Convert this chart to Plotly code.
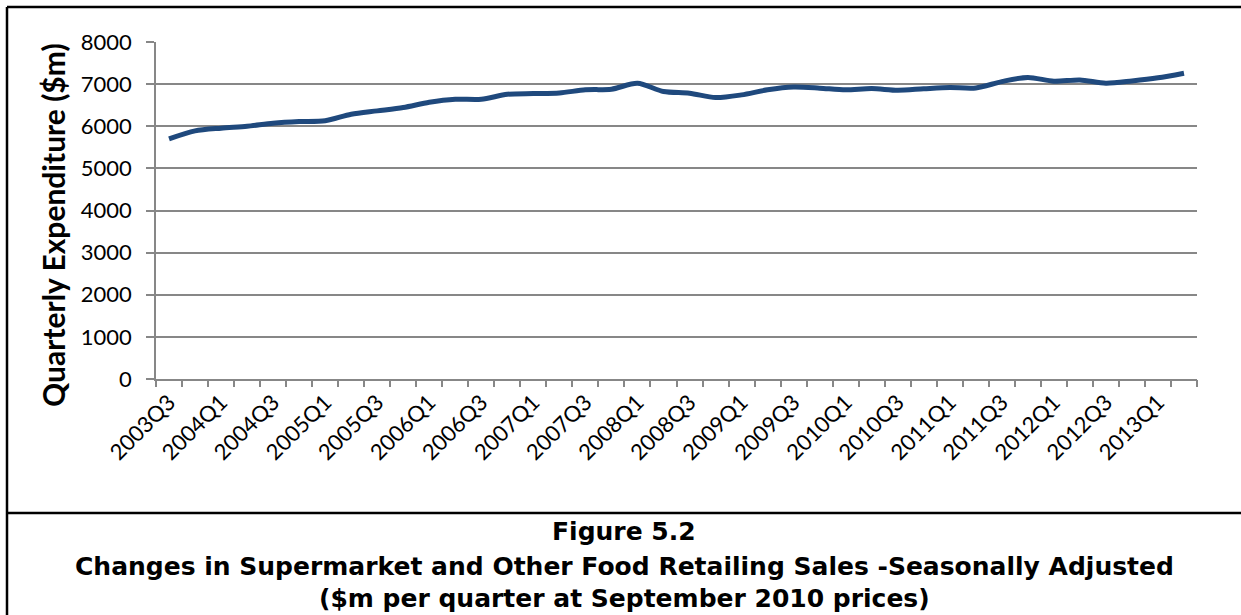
import plotly.graph_objects as go

# Datos trimestrales (ventas desestacionalizadas, $m a precios de sept. 2010)
quarters = [
    '2003Q3', '2003Q4', '2004Q1', '2004Q2', '2004Q3', '2004Q4', '2005Q1', '2005Q2',
    '2005Q3', '2005Q4', '2006Q1', '2006Q2', '2006Q3', '2006Q4', '2007Q1', '2007Q2',
    '2007Q3', '2007Q4', '2008Q1', '2008Q2', '2008Q3', '2008Q4', '2009Q1', '2009Q2',
    '2009Q3', '2009Q4', '2010Q1', '2010Q2', '2010Q3', '2010Q4', '2011Q1', '2011Q2',
    '2011Q3', '2011Q4', '2012Q1', '2012Q2', '2012Q3', '2012Q4', '2013Q1', '2013Q2',
]
expenditure = [
    5700, 5890, 5955, 6000, 6070, 6110, 6130, 6285,
    6365, 6445, 6570, 6640, 6640, 6760, 6775, 6790,
    6865, 6880, 7020, 6825, 6785, 6680, 6745, 6865,
    6930, 6905, 6865, 6895, 6855, 6890, 6920, 6910,
    7060, 7160, 7070, 7100, 7020, 7075, 7150, 7260,
]
y_ticks = [0, 1000, 2000, 3000, 4000, 5000, 6000, 7000, 8000]

# Geometría de la página (px)
W, H = 1241, 615
L, R, T, B = 156, 44, 42, 236
PW, PH = W - L - R, H - T - B

def px_x(px):
    return (px - L) / PW

def px_y(py):
    return (H - B - py) / PH

GRID = '#878787'
LINE = '#1F497D'

idx = list(range(len(quarters)))
label_idx = idx[::2]

fig = go.Figure()
fig.add_trace(go.Scatter(
    x=idx, y=expenditure, mode='lines',
    line=dict(color=LINE, width=5, shape='spline', smoothing=0.8),
    hoverinfo='skip', showlegend=False,
))
# traza invisible para activar el eje de marcas en los límites
fig.add_trace(go.Scatter(x=[idx[0]], y=[expenditure[0]], xaxis='x2', mode='markers',
                         marker=dict(opacity=0), showlegend=False, hoverinfo='skip'))

fig.update_layout(
    width=W, height=H, autosize=False,
    margin=dict(l=L, r=R, t=T, b=B),
    paper_bgcolor='white', plot_bgcolor='white',
    font=dict(family='Lato, Carlito, sans-serif', color='#000000'),
    showlegend=False,
    xaxis=dict(
        range=[-0.5, len(quarters) - 0.5],
        tickmode='array', tickvals=label_idx,
        ticktext=[quarters[i] for i in label_idx],
        tickangle=-45, tickfont=dict(size=22, family='Lato, sans-serif'),
        ticks='', showgrid=False, zeroline=False,
        showline=True, linecolor=GRID, linewidth=1.5,
    ),
    xaxis2=dict(
        overlaying='x', range=[-0.5, len(quarters) - 0.5],
        tick0=-0.5, dtick=1, ticks='outside', ticklen=7, tickwidth=1.5, tickcolor=GRID,
        showticklabels=False, showgrid=False, zeroline=False, showline=False,
        anchor='y', side='bottom',
    ),
    yaxis=dict(
        range=[0, 8000], tickmode='array', tickvals=y_ticks,
        tickfont=dict(size=22, family='Lato, sans-serif'),
        ticks='outside', ticklen=8, tickwidth=1.5, tickcolor=GRID,
        ticklabelstandoff=10,
        showgrid=True, gridcolor=GRID, gridwidth=1.5, zeroline=False,
        showline=True, linecolor=GRID, linewidth=1.5,
    ),
)

# Título del eje Y
fig.add_annotation(
    text='<b>Quarterly Expenditure ($m)</b>', textangle=-90,
    xref='paper', yref='paper', x=px_x(53), y=px_y(225),
    xanchor='center', yanchor='middle', showarrow=False,
    font=dict(size=30, family='Lato, sans-serif', color='#000000'),
)

# Pie de figura
caption = [
    ('Figure 5.2', 531),
    ('Changes in Supermarket and Other Food Retailing Sales -Seasonally Adjusted', 566),
    ('($m per quarter at September 2010 prices)', 598),
]
for txt, yc in caption:
    fig.add_annotation(
        text=f'<b>{txt}</b>', xref='paper', yref='paper',
        x=px_x(624), y=px_y(yc), xanchor='center', yanchor='middle', showarrow=False,
        font=dict(size=25, family='DejaVu Sans, Verdana, sans-serif', color='#000000'),
    )

# Marco del gráfico y separador del pie
for x0, y0, x1, y1 in [(7, 7, W, 7), (7, 7, 7, H), (7, 513, W, 513)]:
    fig.add_shape(type='line', xref='paper', yref='paper',
                  x0=px_x(x0), y0=px_y(y0), x1=px_x(x1), y1=px_y(y1),
                  line=dict(color='#000000', width=2.5))

# quitar el margen por defecto del <body>
fig.write_html('out.html', config={'displayModeBar': False},
               post_script="document.body.style.margin='0';")
